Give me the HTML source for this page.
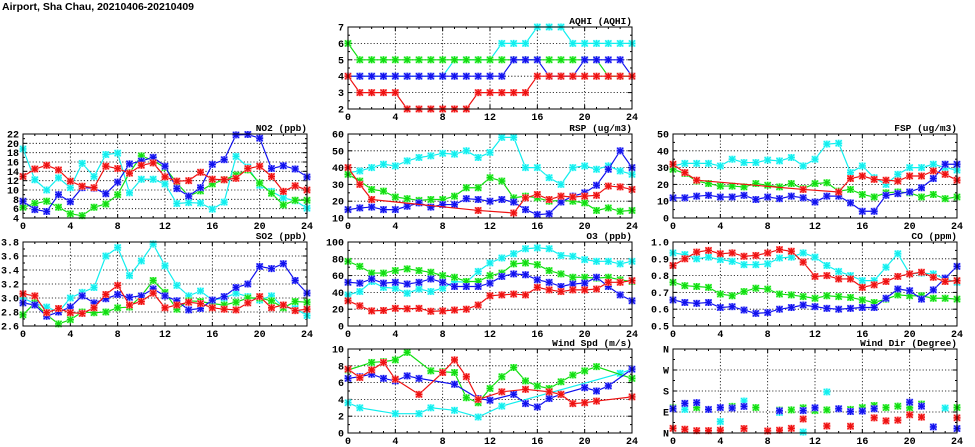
<!DOCTYPE html>
<html><head><meta charset="utf-8"><style>
html,body{margin:0;padding:0;background:#fff;}
svg{display:block;font-family:"Liberation Mono","DejaVu Sans Mono",monospace;font-weight:bold;}
</style></head><body>
<svg id="s" width="975" height="447" viewBox="0 0 975 447" xmlns="http://www.w3.org/2000/svg">
<text x="2" y="10" font-size="10.5" font-family="Liberation Sans, sans-serif" font-weight="bold">Airport, Sha Chau, 20210406-20210409</text>
</svg>
<script>
const N=null;
const C={r:"#ee1111",g:"#11dd11",b:"#1111ee",c:"#11eeee"};
const L={r:"#ff9999",g:"#99ff99",b:"#9999ff",c:"#99ffff"};
const svg=document.getElementById('s');
let out='';
function panel(x0,y0,x1,y1,ymin,ymax,yticks,ylabels,title,series,scatter){
  const W=x1-x0,H=y1-y0;
  const px=h=>x0+h/24*W, py=v=>y1-(v-ymin)/(ymax-ymin)*H;
  // grid
  for(let h=4;h<24;h+=4) out+=`<line x1="${px(h)}" y1="${y0}" x2="${px(h)}" y2="${y1}" stroke="#000" stroke-width="0.8" stroke-dasharray="1.2,2"/>`;
  yticks.forEach((v,i)=>{ if(i>0&&i<yticks.length-1) out+=`<line x1="${x0}" y1="${py(v)}" x2="${x1}" y2="${py(v)}" stroke="#000" stroke-width="0.8" stroke-dasharray="1.2,2"/>`;});
  // ticks
  for(let h=0;h<=24;h++){const l=h%4==0?4:2;out+=`<line x1="${px(h)}" y1="${y1}" x2="${px(h)}" y2="${y1-l}" stroke="#000"/><line x1="${px(h)}" y1="${y0}" x2="${px(h)}" y2="${y0+l}" stroke="#000"/>`;}
  for(let i=0;i<yticks.length;i++){const v=yticks[i];out+=`<line x1="${x0}" y1="${py(v)}" x2="${x0+4}" y2="${py(v)}" stroke="#000"/><line x1="${x1}" y1="${py(v)}" x2="${x1-4}" y2="${py(v)}" stroke="#000"/>`;
    if(i<yticks.length-1){const m=(v+yticks[i+1])/2;out+=`<line x1="${x0}" y1="${py(m)}" x2="${x0+2}" y2="${py(m)}" stroke="#000"/><line x1="${x1}" y1="${py(m)}" x2="${x1-2}" y2="${py(m)}" stroke="#000"/>`;}
    out+=`<text x="${x0-4}" y="${py(v)+3.5}" font-size="10" text-anchor="end">${ylabels[i]}</text>`;}
  for(let h=0;h<=24;h+=4) out+=`<text x="${px(h)}" y="${y1+11}" font-size="10" text-anchor="middle">${h}</text>`;
  out+=`<text x="${x1}" y="${y0-3}" font-size="9.5" text-anchor="end">${title}</text>`;
  ['c','g','b','r'].forEach(k=>{const d=series[k];if(!d)return;
    let pts=[];
    if(scatter){d.forEach(p=>pts.push([px(p[0]),py(p[1])]));}
    else d.forEach((v,i)=>{if(v!==N)pts.push([px(i),py(v)]);});
    if(!scatter) out+=`<polyline points="${pts.map(p=>p.join(',')).join(' ')}" fill="none" stroke="${C[k]}" stroke-width="1.2"/>`;
    pts.forEach(([x,y])=>{out+=`<rect x="${x-3.5}" y="${y-3.5}" width="7" height="7" fill="${L[k]}"/><path d="M${x-3},${y-3}L${x+3},${y+3}M${x-3},${y+3}L${x+3},${y-3}M${x-3.5},${y}L${x+3.5},${y}M${x},${y-3.5}L${x},${y+3.5}" stroke="${C[k]}" stroke-width="1.3"/>`;});
  });
  out+=`<rect x="${x0}" y="${y0}" width="${W}" height="${H}" fill="none" stroke="#000" stroke-width="1"/>`;
}
const cols=[23,348,673],cw=284;
const rows=[[27,109],[134,218],[242,326],[349,433]];
function rng(a,b,s){let r=[];for(let v=a;v<=b+1e-9;v+=s)r.push(+v.toFixed(2));return r;}
// AQHI
panel(348,27,632,109,2,7,rng(2,7,1),rng(2,7,1).map(String),"AQHI (AQHI)",{
 c:[4,4,4,4,4,4,4,4,4,5,5,5,5,6,6,6,7,7,7,6,6,6,6,6,6],
 g:[6,5,5,5,5,5,5,5,5,5,5,5,5,5,5,5,5,5,5,5,5,5,4,4,4],
 b:[4,4,4,4,4,4,4,4,4,4,4,4,4,4,5,5,5,4,4,4,5,5,5,5,4],
 r:[4,3,3,3,3,2,2,2,2,2,2,3,3,3,3,3,4,4,4,4,4,4,4,4,4]});
// NO2
panel(23,134,307,218,4,22,rng(4,22,2),rng(4,22,2).map(String),"NO2 (ppb)",{
 c:[18.8,12.2,10,12.6,10.5,15.7,12.9,17.6,17.9,9.4,12.3,12.3,11.3,7.1,7.3,7.2,5.9,7.4,17.2,14.9,11,9.7,8.3,7.7,6.1],
 g:[6.3,7.1,7.6,6.3,4.9,4.5,6.3,7,9,13.7,17.3,16.3,14.8,11.5,8.7,9.8,11.3,12.2,13.2,14.3,11.5,9.3,6.8,7.8,7.8],
 b:[7.6,5.8,5.4,9,7.5,10.5,10.4,9.2,11.7,15.6,16.2,17,15.1,10.3,8.7,10.5,15.5,16.5,21.8,21.9,21.1,14.6,15.2,14.5,12.8],
 r:[12.9,14.5,15.3,14.3,11.9,10.8,10.5,15.1,14.6,13.6,15.3,15.8,12.8,11.9,12,13.8,12.3,12.2,12.5,14.6,15.1,12.9,9.7,10.9,10]});
// RSP
panel(348,134,632,218,10,60,rng(10,60,10),rng(10,60,10).map(String),"RSP (ug/m3)",{
 c:[37,38,40,42,41,44,46,47,48.5,48,50,46,49,58,58,40,40,34,30,40,41,39,41,38,36],
 g:[36,32,27,26,22.5,21.5,20.5,21,21,23,28,28,34,32,22,23,22,20,20.5,20,19,14.5,16,14,14.5],
 b:[15,16,16.5,15,15,17,19,16.5,18,18,21.5,21,20,21,19.5,15,12,12.5,19.5,23,25,29.5,39,50,40],
 r:[40,30,21,N,N,N,N,N,N,N,N,14.5,N,N,13,22,24,21,23,22.5,23,23.5,29,28.5,27]});
// FSP
panel(673,134,957,218,0,50,rng(0,50,10),rng(0,50,10).map(String),"FSP (ug/m3)",{
 c:[31,32.5,32.5,32.5,31,35,33,33,34.5,34,36,31,35,44,44.5,27,31,24,20,26,30,30,32,30,28.5],
 g:[29,26.5,22,20.5,19,19,18.5,20.5,19.5,18.5,20.5,17.5,20.5,21,16,17,14,12.5,15,15.5,15,12.5,14,11.5,12.5],
 b:[12,12,13,13.5,12.5,12.5,13.5,11,12.5,11.5,13,12,9.5,13,13,9,4,4,13.5,14.5,15.5,18,23.5,32,32],
 r:[32,27,22.5,N,N,N,N,N,N,N,N,17,N,N,15.5,23.5,25,23,22.5,22,25,25,28,26,22.5]});
// SO2
panel(23,242,307,326,2.6,3.8,rng(2.6,3.8,0.2),["2.6","2.8","3.0","3.2","3.4","3.6","3.8"],"SO2 (ppb)",{
 c:[3.0,2.92,2.87,2.8,3.0,3.08,3.15,3.6,3.72,3.32,3.53,3.77,3.46,3.18,3.03,3.1,2.97,3.0,3.07,3.02,2.97,3.03,2.87,2.85,2.75],
 g:[2.76,2.93,2.76,2.63,2.69,2.8,2.79,2.8,2.86,2.87,3.03,3.25,3.08,2.84,2.96,2.95,2.92,2.9,2.94,3.0,3.0,2.96,2.86,2.95,2.94],
 b:[2.93,2.9,2.74,2.8,2.87,3.03,2.93,2.99,3.05,3.01,3.03,3.13,3.03,2.96,2.83,2.85,2.97,3.02,3.15,3.2,3.45,3.42,3.49,3.25,3.07],
 r:[3.06,3.03,2.79,2.85,2.79,2.78,2.86,3.05,3.18,2.9,2.95,3.07,2.86,2.9,2.94,2.92,2.86,2.84,2.83,2.93,3.02,2.86,2.9,2.82,2.84]});
// O3
panel(348,242,632,326,0,100,rng(0,100,20),rng(0,100,20).map(String),"O3 (ppb)",{
 c:[37,41,53,46,45,39,44,41,45,53,52,65,75,81,86,92,93,92,84,83,79,77,77,74,77],
 g:[77,71,63,63,66,68,66,64,60,58,53,53,60,63,74,75,73,66,62,58,58,57,58,55,53],
 b:[52,51,56,51,52,50,52,56,52,47,47,47,51,59,62,61,55,52,47,50,51,58,47,37,30],
 r:[30,24,18,18.5,21,20.5,21,17.5,18,19,20,25,36,37,38,37,46,43,41,43,43,44,52,52,54]});
// CO
panel(673,242,957,326,0.5,1.0,rng(0.5,1.0,0.1),["0.5","0.6","0.7","0.8","0.9","1.0"],"CO (ppm)",{
 c:[.935,.925,.9,.91,.895,.885,.865,.865,.87,.905,.91,.935,.91,.86,.825,.8,.77,.77,.85,.93,.81,.815,.81,.78,.76],
 g:[.76,.74,.735,.73,.69,.68,.705,.725,.72,.69,.685,.675,.665,.68,.675,.67,.655,.64,.66,.685,.68,.68,.665,.665,.66],
 b:[.655,.64,.635,.64,.61,.615,.595,.575,.58,.6,.61,.625,.615,.605,.6,.605,.61,.61,.665,.72,.71,.66,.715,.785,.855],
 r:[.86,.9,.94,.95,.93,.935,.915,.92,.935,.955,.945,.88,.795,.8,.78,.78,.73,.745,.765,.795,.81,.82,.79,.765,.77]});
// Wind Spd
panel(348,349,632,433,0,10,rng(0,10,2),rng(0,10,2).map(String),"Wind Spd (m/s)",{
 c:[3.6,3.0,N,N,2.3,N,2.3,3.0,N,2.7,N,1.9,N,3.2,N,N,N,N,N,N,N,N,N,7.1,7.6],
 g:[7.5,N,8.4,8.5,8.7,9.6,N,7.4,7.3,7.2,4.2,3.6,5.3,6.7,7.8,6.2,5.6,5.3,6.1,6.9,7.4,7.9,N,N,6.5],
 b:[6.5,6.7,7.0,6.5,6.2,6.8,6.5,N,N,5.8,N,4.1,3.9,N,4.6,3.5,3.1,4.1,4.6,N,5.4,5.0,5.6,N,7.6],
 r:[7.6,6.6,7.5,8.4,6.4,N,4.6,N,7.2,8.7,6.7,4.0,N,4.9,N,5.2,N,4.9,4.6,3.5,3.6,3.8,N,N,4.3]});
// Wind Dir
panel(673,349,957,433,0,360,[0,90,180,270,360],["N","E","S","W","N"],"Wind Dir (Degree)",{
 b:[[0,104],[1,127],[2,130],[3,101],[4,109],[5,107],[6,114],[9,95],[11,96],[12,108],[14,104],[15,92],[16,94],[17,104],[20,132],[21,115],[22,26],[24,19]],
 c:[[1,101],[4,49],[6,137],[9,88],[11,4],[13,176],[23,107]],
 g:[[0,108],[2,109],[5,114],[7,109],[9,98],[10,99],[11,108],[12,96],[13,99],[15,101],[16,109],[17,118],[18,109],[19,115],[20,108],[21,124],[24,109]],
 r:[[0,20],[1,16],[2,10],[3,10],[4,12],[6,19],[8,9],[9,12],[10,20],[11,60],[13,30],[15,29],[17,65],[18,52],[19,55],[20,78],[21,68],[24,65]]},true);
svg.insertAdjacentHTML('beforeend',out);
</script>
</body></html>
